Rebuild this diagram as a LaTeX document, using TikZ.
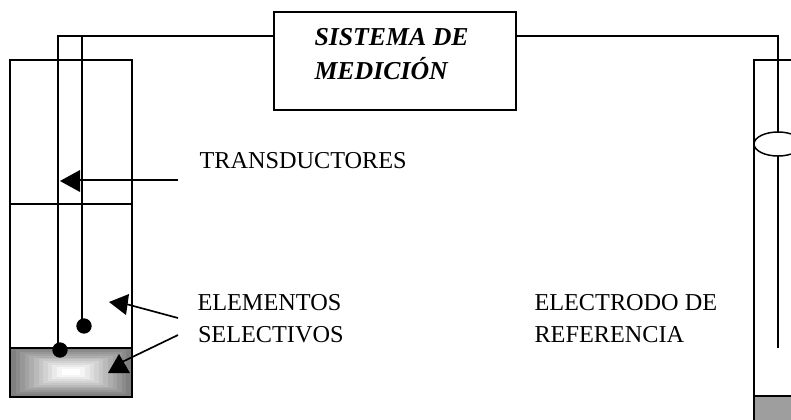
\documentclass[tikz,border=0pt]{standalone}
\usepackage{fontspec}
\usetikzlibrary{shapes.geometric}
\setmainfont{Liberation Serif}
\tikzset{
  wire/.style={draw=black,line width=1.25pt},
  boxed/.style={wire,rectangle,inner sep=0pt,outer sep=0pt,anchor=north west},
  label/.style={anchor=base west,inner sep=0pt,outer sep=0pt,font=\fontsize{18.2}{20}\selectfont,text=black},
  title/.style={anchor=base west,inner sep=0pt,outer sep=0pt,font=\fontsize{19.35}{21}\selectfont\bfseries\itshape},
  dot/.style={circle,fill=black,inner sep=0pt,minimum size=11.5pt},
  headtip/.style={fill=black,draw=none}
}
\begin{document}
\begin{tikzpicture}[x=0.75pt,y=-0.75pt]
\useasboundingbox (0,0) rectangle (791,419);
\begin{scope}
\clip (0,0) rectangle (791,419);
% shaded sample of the left cell
\foreach \i in {0,...,11}{
  \pgfmathsetmacro{\g}{0.5+\i*0.046}
  \pgfmathsetmacro{\dx}{\i*4.6}
  \pgfmathsetmacro{\dy}{\i*1.9}
  \definecolor{sg}{gray}{\g}
  \fill[sg] (11+\dx,348+\dy) rectangle (131-\dx,396-\dy);
}
% left cell
\node[boxed,minimum width=91.5pt,minimum height=252.75pt] (cell) at (10,60) {};
\coordinate (divL) at (10,204);
\coordinate (divR) at (132,204);
\draw[wire] (divL) -- (divR);
\draw[wire] (10,348) coordinate (sampL) -- (132,348) coordinate (sampR);
% measuring system
\node[boxed,minimum width=181.5pt,minimum height=73.5pt] (sys) at (274,12) {};
\node[title] (t1) at (314.5,45) {SISTEMA DE};
\node[title] (t2) at (314.5,79) {MEDICIÓN};
% electrodes
\node[dot] (d1) at (60,350) {};
\node[dot] (d2) at (84,326) {};
\coordinate (c1) at (58,36);
\draw[wire] (sys.west |- c1) -- (c1) -- (d1.center -| c1);
\coordinate (c1b) at (82,36);
\draw[wire] (c1b) -- (d2.center -| c1b);
% reference electrode
\fill[black!38] (755,397) rectangle (800,430);
\draw[wire] (754,430) -- (754,60) -- (800,60);
\draw[line width=1.9pt] (754,396) -- (800,396);
\draw[line width=1.9pt] (754,396) -- (754,430);
\node[draw=black,line width=1.1pt,ellipse,minimum width=36pt,minimum height=18pt,inner sep=0pt,outer sep=0pt,fill=white] (bulb) at (778,144) {};
\coordinate (c2) at (778,36);
\draw[wire] (sys.east |- c2) -- (c2) -- (bulb.north);
\coordinate (c3) at (778,348);
\draw[wire] (bulb.south) -- (c3);
% pointer arrows
\coordinate (a1) at (178,180);
\coordinate (a2) at (178,318);
\coordinate (a3) at (178,335);
\draw[wire] (a1) -- (78,180);
\fill[headtip] (60,181) -- (80,170) -- (80,192) -- cycle;
\draw[wire] (a2) -- (126,304);
\fill[headtip] (109,302) -- (129,294) -- (126,315) -- cycle;
\draw[wire] (a3) -- (122,362);
\fill[headtip] (119,354) -- (108,373) -- (130,373) -- cycle;
% labels
\node[label] (l1) at (199.5,168) {TRANSDUCTORES};
\node[label] (l2) at (197.5,310) {ELEMENTOS};
\node[label] (l3) at (198,342) {SELECTIVOS};
\node[label] (l4) at (534.5,310) {ELECTRODO DE};
\node[label] (l5) at (534.5,342) {REFERENCIA};
\end{scope}
\end{tikzpicture}
\end{document}
